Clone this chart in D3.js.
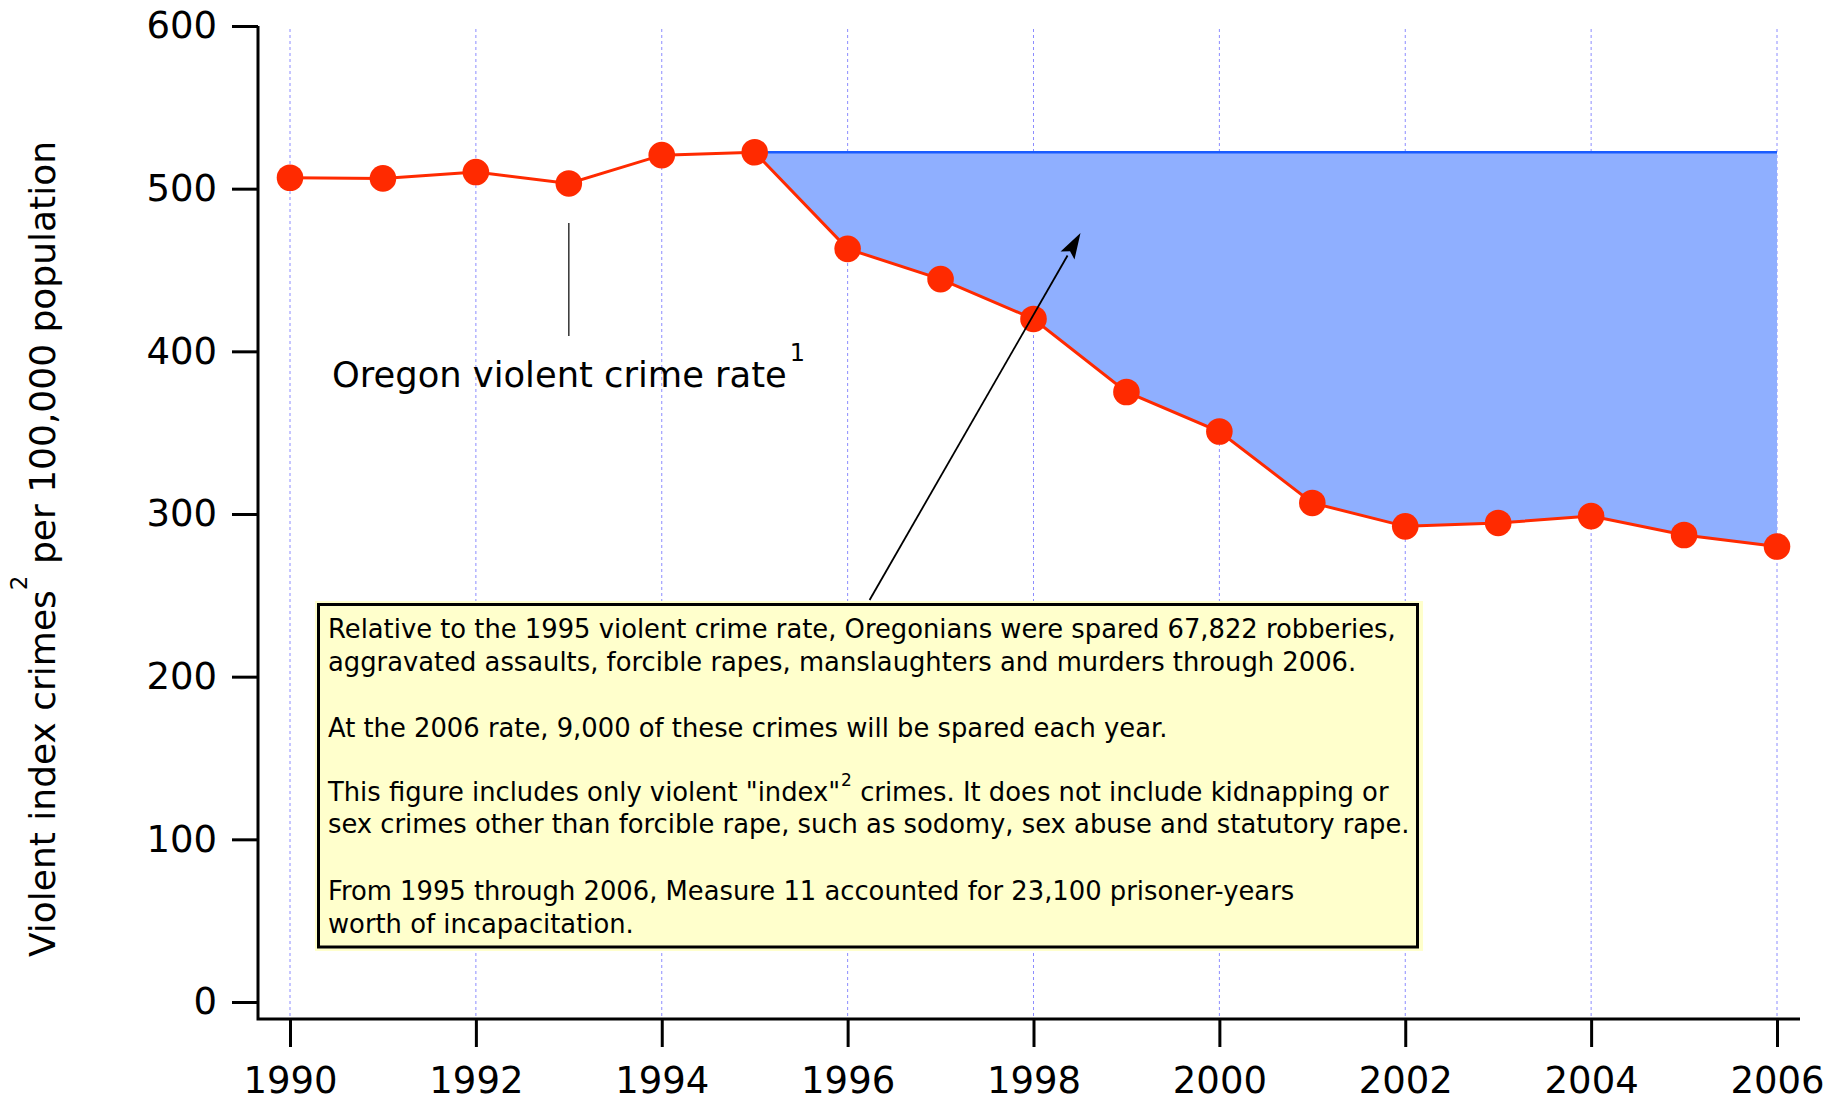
<!DOCTYPE html>
<html>
<head>
<meta charset="utf-8">
<script src="https://cdn.jsdelivr.net/npm/d3@7"></script>
<style>
  html, body { margin: 0; padding: 0; background: #fff; }
  svg { display: block; font-family: "DejaVu Sans", sans-serif; }
</style>
</head>
<body>
<svg id="chart" width="1845" height="1105"></svg>
<script>
// Oregon violent index crime rate per 100,000 population
const years = [1990, 1991, 1992, 1993, 1994, 1995, 1996, 1997, 1998,
               1999, 2000, 2001, 2002, 2003, 2004, 2005, 2006];
const rates = [506.7, 506.3, 510.2, 503.2, 520.6, 522.4, 463.0, 444.4, 419.9,
               375.0, 350.7, 306.8, 292.4, 294.5, 298.7, 287.1, 280.0];
const referenceYear = 1995;
const yTicks = [0, 100, 200, 300, 400, 500, 600];
const xTicks = [1990, 1992, 1994, 1996, 1998, 2000, 2002, 2004, 2006];

const noteLines = [
  ["Relative to the 1995 violent crime rate, Oregonians were spared 67,822 robberies,"],
  ["aggravated assaults, forcible rapes, manslaughters and murders through 2006."],
  null,
  ["At the 2006 rate, 9,000 of these crimes will be spared each year."],
  null,
  ["This figure includes only violent \"index\"", {sup: "2"}, " crimes. It does not include kidnapping or"],
  ["sex crimes other than forcible rape, such as sodomy, sex abuse and statutory rape."],
  null,
  ["From 1995 through 2006, Measure 11 accounted for 23,100 prisoner-years"],
  ["worth of incapacitation."]
];

const svg = d3.select("#chart");
const x = d3.scaleLinear().domain([1990, 2006]).range([290, 1777]);
const y = d3.scaleLinear().domain([0, 600]).range([1002, 26]);

const axisLeftX = 258, axisBottomY = 1019;

// vertical dotted grid at labelled years
svg.append("g").selectAll("line").data(xTicks).join("line")
  .attr("x1", d => x(d)).attr("x2", d => x(d))
  .attr("y1", y(600) + 3).attr("y2", axisBottomY)
  .attr("stroke", "#8c8cff").attr("stroke-width", 1)
  .attr("stroke-dasharray", "3,3");

// spared crimes: area between the 1995 rate and the actual rate
const refRate = rates[years.indexOf(referenceYear)];
const after = years.map((yr, i) => ({yr, v: rates[i]})).filter(d => d.yr >= referenceYear);

svg.append("path").datum(after)
  .attr("d", d3.area().x(d => x(d.yr)).y0(y(refRate)).y1(d => y(d.v)))
  .attr("fill", "#8fafff");

svg.append("line")
  .attr("x1", x(referenceYear)).attr("x2", x(years[years.length - 1]))
  .attr("y1", y(refRate)).attr("y2", y(refRate))
  .attr("stroke", "#1a5cff").attr("stroke-width", 2.5);

// crime rate line and markers
const series = years.map((yr, i) => ({yr, v: rates[i]}));
svg.append("path").datum(series)
  .attr("d", d3.line().x(d => x(d.yr)).y(d => y(d.v)))
  .attr("fill", "none").attr("stroke", "#ff2a00").attr("stroke-width", 3);

svg.append("g").selectAll("circle").data(series).join("circle")
  .attr("cx", d => x(d.yr)).attr("cy", d => y(d.v)).attr("r", 13.3)
  .attr("fill", "#ff2a00");

// axes
const yAxis = d3.axisLeft(y).tickValues(yTicks).tickSize(26).tickSizeOuter(0).tickPadding(15);
const gy = svg.append("g").attr("transform", `translate(${axisLeftX},0)`).call(yAxis);
gy.select(".domain").remove();
gy.selectAll(".tick line").attr("stroke", "#000").attr("stroke-width", 3);
gy.selectAll(".tick text").attr("font-size", 37).attr("font-family", "DejaVu Sans").attr("fill", "#000");

const xAxis = d3.axisBottom(x).tickValues(xTicks).tickFormat(d3.format("d"))
  .tickSize(28).tickSizeOuter(0).tickPadding(20);
const gx = svg.append("g").attr("transform", `translate(0,${axisBottomY})`).call(xAxis);
gx.select(".domain").remove();
gx.selectAll(".tick line").attr("stroke", "#000").attr("stroke-width", 3);
gx.selectAll(".tick text").attr("font-size", 37).attr("font-family", "DejaVu Sans").attr("fill", "#000");

svg.append("path")
  .attr("d", `M${axisLeftX},${y(600)}V${axisBottomY}H1800`)
  .attr("fill", "none").attr("stroke", "#000").attr("stroke-width", 3);

// y axis title
const yTitle = svg.append("text")
  .attr("transform", `translate(55,549) rotate(-90)`)
  .attr("text-anchor", "middle").attr("font-size", 36).attr("fill", "#000");
yTitle.append("tspan").text("Violent index crimes");
yTitle.append("tspan").attr("font-size", 23).attr("dy", -28).text("2");
yTitle.append("tspan").attr("dy", 28).text(" per 100,000 population");

// series label with leader line
svg.append("line")
  .attr("x1", x(1993)).attr("x2", x(1993)).attr("y1", 223).attr("y2", 336)
  .attr("stroke", "#333").attr("stroke-width", 1.5);
const lbl = svg.append("text").attr("x", 332).attr("y", 387)
  .attr("font-size", 35.3).attr("fill", "#000");
lbl.append("tspan").text("Oregon violent crime rate");
lbl.append("tspan").attr("font-size", 24).attr("dy", -26).attr("dx", 3).text("1");

// note box
const box = svg.append("g");
box.append("rect").attr("x", 315).attr("y", 601).attr("width", 1108).attr("height", 350)
  .attr("fill", "#ffffcc");
box.append("rect").attr("x", 318.5).attr("y", 604.5).attr("width", 1099).attr("height", 342.5)
  .attr("fill", "#ffffcc").attr("stroke", "#000").attr("stroke-width", 3);

const baselines = [638, 671, null, 737, null, 801, 833, null, 900, 933];
noteLines.forEach((parts, i) => {
  if (!parts) return;
  const t = box.append("text").attr("x", 328).attr("y", baselines[i])
    .attr("font-size", 25.8).attr("fill", "#000");
  let shift = 0;
  parts.forEach(p => {
    if (typeof p === "string") {
      t.append("tspan").attr("dy", -shift).text(p);
      shift = 0;
    } else {
      t.append("tspan").attr("font-size", 17).attr("dy", -15).attr("dx", 1).text(p.sup);
      shift = -15;
    }
  });
});

// arrow from the note into the shaded area
const ax0 = 869.6, ay0 = 600, ax1 = 1080.5, ay1 = 233;
const ang = Math.atan2(ay1 - ay0, ax1 - ax0);
const headLen = 26, headHalf = 8;
const bx = ax1 - headLen * Math.cos(ang), by = ay1 - headLen * Math.sin(ang);
svg.append("line").attr("x1", ax0).attr("y1", ay0).attr("x2", bx).attr("y2", by)
  .attr("stroke", "#000").attr("stroke-width", 1.8);
svg.append("polygon")
  .attr("points", [
    [ax1, ay1],
    [bx + headHalf * Math.sin(ang), by - headHalf * Math.cos(ang)],
    [bx + 5 * Math.cos(ang), by + 5 * Math.sin(ang)],
    [bx - headHalf * Math.sin(ang), by + headHalf * Math.cos(ang)]
  ].map(p => p.join(",")).join(" "))
  .attr("fill", "#000");
</script>
</body>
</html>
